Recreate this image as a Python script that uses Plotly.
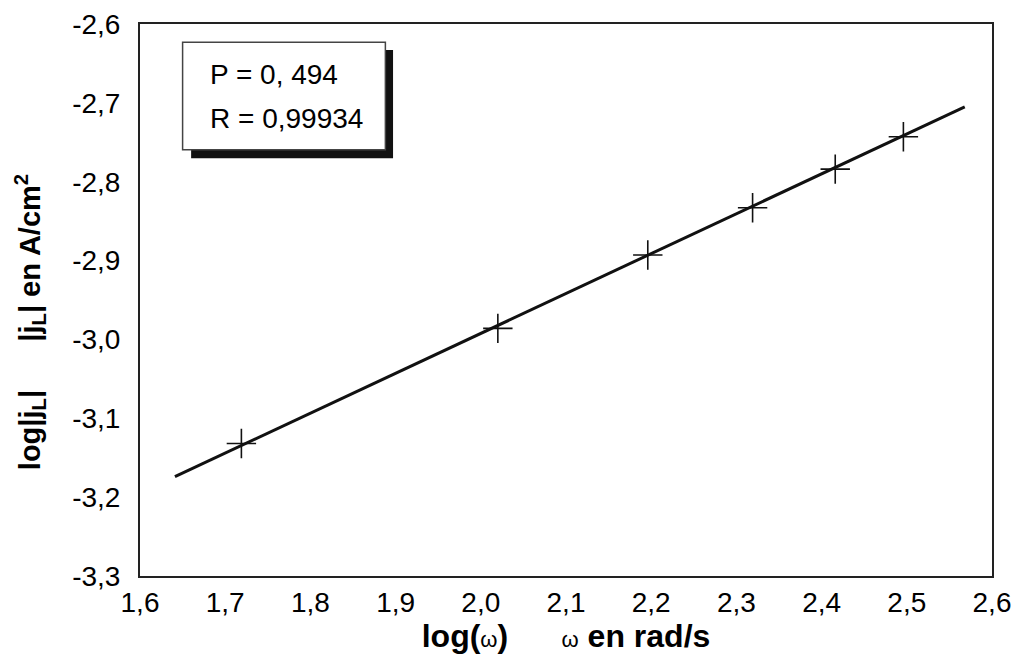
import plotly.graph_objects as go

# measured points (log w, log|jL|)
log_w = [1.719, 2.020, 2.196, 2.319, 2.416, 2.496]
log_j = [-3.132, -2.986, -2.893, -2.833, -2.784, -2.743]

# fitted straight line, end points
fit_x = [1.641, 2.568]
fit_y = [-3.174, -2.705]

x_ticks = [1.6, 1.7, 1.8, 1.9, 2.0, 2.1, 2.2, 2.3, 2.4, 2.5, 2.6]
x_labels = ["1,6", "1,7", "1,8", "1,9", "2,0", "2,1", "2,2", "2,3", "2,4", "2,5", "2,6"]
y_ticks = [-2.6, -2.7, -2.8, -2.9, -3.0, -3.1, -3.2, -3.3]
y_labels = ["-2,6", "-2,7", "-2,8", "-2,9", "-3,0", "-3,1", "-3,2", "-3,3"]

fit_text = ["P = 0, 494", "R = 0,99934"]

FONT = "Arial, Liberation Sans, sans-serif"

fig = go.Figure()

fig.add_trace(go.Scatter(x=fit_x, y=fit_y, mode="lines",
                         line=dict(color="#111111", width=3), showlegend=False))
fig.add_trace(go.Scatter(x=log_w, y=log_j, mode="markers",
                         marker=dict(symbol="cross-thin", size=21,
                                     line=dict(color="#111111", width=1.6)),
                         showlegend=False))

# text box with drop shadow
fig.add_shape(type="rect", xref="x domain", yref="y domain",
              x0=0.060, x1=0.297, y0=0.757, y1=0.953,
              fillcolor="#111111", line=dict(width=0), layer="above")
fig.add_shape(type="rect", xref="x domain", yref="y domain",
              x0=0.050, x1=0.288, y0=0.772, y1=0.967,
              fillcolor="white", line=dict(color="#444444", width=1.5), layer="above")
for txt, yy in zip(fit_text, [0.908, 0.828]):
    fig.add_annotation(text=txt, xref="x domain", yref="y domain",
                       x=0.080, y=yy, xanchor="left", yanchor="middle",
                       showarrow=False, font=dict(family=FONT, size=28, color="black"))

# y title as rotated annotation (it sits a bit below the centre in the original)
fig.add_annotation(text="<b>log|j<sub>L</sub>|      |j<sub>L</sub>| en A/cm<sup>2</sup></b>",
                   xref="paper", yref="paper", x=-0.129, y=0.46,
                   xanchor="center", yanchor="middle", textangle=-90,
                   showarrow=False, font=dict(family=FONT, size=29, color="black"))

fig.update_xaxes(range=[1.6, 2.6], tickvals=x_ticks, ticktext=x_labels,
                 showgrid=False, zeroline=False, ticks="", automargin=False,
                 showline=True, linecolor="#222222", linewidth=2, mirror=True,
                 tickfont=dict(family=FONT, size=28, color="black"),
                 title=dict(text="<b>log(</b><span style='font-size:22px'>ω</span><b>)</b>"
                                 "      <span style='font-size:22px'>ω</span><b> en rad/s</b>",
                            font=dict(family=FONT, size=32, color="black"), standoff=2))
fig.update_yaxes(range=[-3.3, -2.6], tickvals=y_ticks, ticktext=y_labels,
                 showgrid=False, zeroline=False, ticks="", automargin=False,
                 showline=True, linecolor="#222222", linewidth=2, mirror=True,
                 ticklabelstandoff=12,
                 tickfont=dict(family=FONT, size=28, color="black"))

# page body adds an 8px offset, so the figure is a little smaller than the window
fig.update_layout(width=1011, height=651,
                  margin=dict(l=132, r=27, t=16, b=83),
                  plot_bgcolor="white", paper_bgcolor="white")

fig.write_html("out.html")
